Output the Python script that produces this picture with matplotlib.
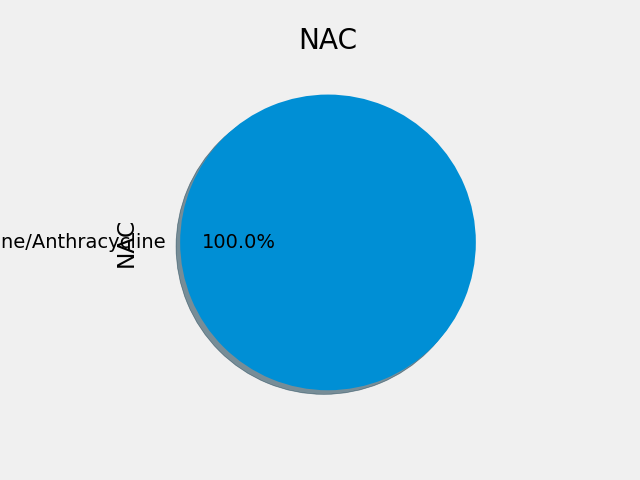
import matplotlib
matplotlib.use("Agg")
import matplotlib.pyplot as plt

plt.style.use("fivethirtyeight")

# Treatment types
labels = ["Taxane/Anthracycline"]
counts = [1]

fig, ax = plt.subplots(figsize=(6.4, 4.8), dpi=100)
fig.subplots_adjust(left=0.125, right=0.9, bottom=0.11, top=0.88)
ax.pie(counts, labels=labels, autopct="%1.1f%%", shadow=True)
ax.set_title("NAC")
ax.set_ylabel("NAC")
fig.savefig("out.png")
